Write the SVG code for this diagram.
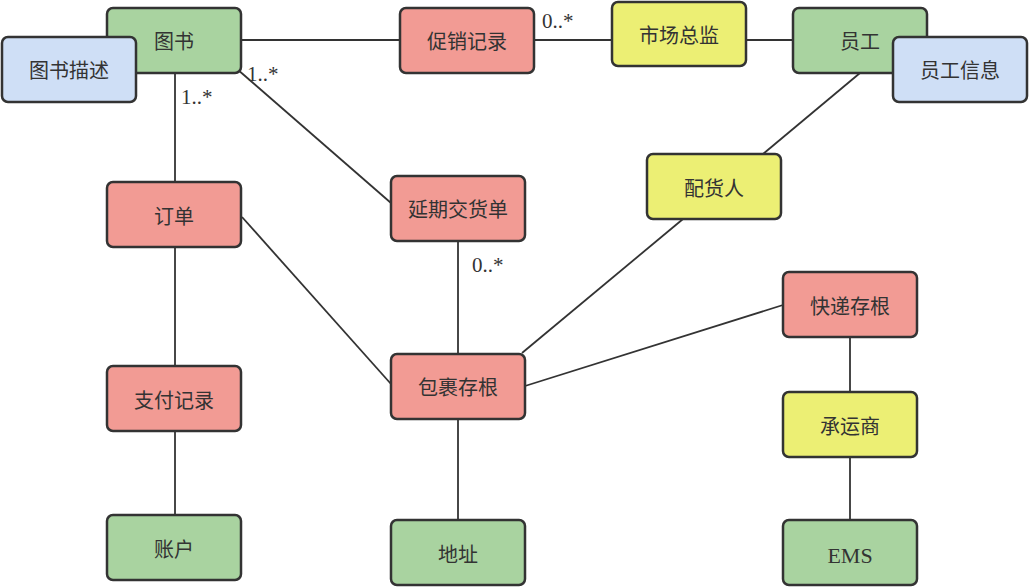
<svg xmlns="http://www.w3.org/2000/svg" width="1029" height="587" viewBox="0 0 1029 587">
<style>
.n rect{stroke:#333;stroke-width:2.5}
.g{fill:#a9d3a0}.b{fill:#cfdff6}.r{fill:#f29b94}.y{fill:#ecef74}
.n text{font-family:"Liberation Serif","Noto Sans CJK SC",serif;font-size:20px;fill:#333;text-anchor:middle;dominant-baseline:central}
.c line{stroke:#333;stroke-width:1.8}
.lbl{font-family:"Liberation Serif",serif;font-size:21px;fill:#333}
</style>
<rect width="1029" height="587" fill="#fff"/>
<g id="connectors" class="c">
<line x1="241" y1="40" x2="400" y2="40"/>
<line x1="534" y1="40" x2="612" y2="40"/>
<line x1="746" y1="40" x2="793" y2="40"/>
<line x1="175" y1="73" x2="175" y2="182"/>
<line x1="237" y1="69" x2="391" y2="203"/>
<line x1="242" y1="217" x2="391" y2="384"/>
<line x1="175" y1="247" x2="175" y2="366"/>
<line x1="175" y1="431" x2="175" y2="515"/>
<line x1="458" y1="241" x2="458" y2="354"/>
<line x1="458" y1="419" x2="458" y2="520"/>
<line x1="860" y1="73" x2="763" y2="154"/>
<line x1="683" y1="219" x2="522" y2="353"/>
<line x1="525" y1="386" x2="783" y2="305"/>
<line x1="850" y1="337" x2="850" y2="392"/>
<line x1="850" y1="457" x2="850" y2="520"/>
</g>
<g id="labels">
<text class="lbl" x="542" y="28">0..*</text>
<text class="lbl" x="247" y="81">1..*</text>
<text class="lbl" x="181" y="104">1..*</text>
<text class="lbl" x="472" y="272">0..*</text>
</g>
<g id="n-tushu" class="n"><rect class="g" x="107" y="8" width="134" height="65" rx="6"/><text x="174" y="42">图书</text></g>
<g id="n-tushumiaoshu" class="n"><rect class="b" x="2" y="37" width="134" height="65" rx="6"/><text x="69" y="71">图书描述</text></g>
<g id="n-cuxiao" class="n"><rect class="r" x="400" y="8" width="134" height="65" rx="6"/><text x="467" y="42">促销记录</text></g>
<g id="n-shichang" class="n"><rect class="y" x="612" y="2" width="134" height="64" rx="6"/><text x="679" y="36">市场总监</text></g>
<g id="n-yuangong" class="n"><rect class="g" x="793" y="8" width="134" height="65" rx="6"/><text x="860" y="42">员工</text></g>
<g id="n-yuangongxinxi" class="n"><rect class="b" x="893" y="37" width="134" height="65" rx="6"/><text x="960" y="71">员工信息</text></g>
<g id="n-peihuoren" class="n"><rect class="y" x="647" y="154" width="134" height="65" rx="6"/><text x="714" y="189">配货人</text></g>
<g id="n-dingdan" class="n"><rect class="r" x="107" y="182" width="134" height="65" rx="6"/><text x="174" y="217">订单</text></g>
<g id="n-yanqi" class="n"><rect class="r" x="391" y="176" width="134" height="65" rx="6"/><text x="458" y="210">延期交货单</text></g>
<g id="n-kuaidi" class="n"><rect class="r" x="783" y="272" width="134" height="65" rx="6"/><text x="850" y="307">快递存根</text></g>
<g id="n-baoguo" class="n"><rect class="r" x="391" y="354" width="134" height="65" rx="6"/><text x="458" y="388">包裹存根</text></g>
<g id="n-zhifu" class="n"><rect class="r" x="107" y="366" width="134" height="65" rx="6"/><text x="174" y="401">支付记录</text></g>
<g id="n-chengyun" class="n"><rect class="y" x="783" y="392" width="134" height="65" rx="6"/><text x="850" y="427">承运商</text></g>
<g id="n-zhanghu" class="n"><rect class="g" x="107" y="515" width="134" height="65" rx="6"/><text x="174" y="550">账户</text></g>
<g id="n-dizhi" class="n"><rect class="g" x="391" y="520" width="134" height="65" rx="6"/><text x="458" y="555">地址</text></g>
<g id="n-ems" class="n"><rect class="g" x="783" y="520" width="134" height="65" rx="6"/><text x="850" y="555" style="font-size:22px">EMS</text></g>
</svg>
